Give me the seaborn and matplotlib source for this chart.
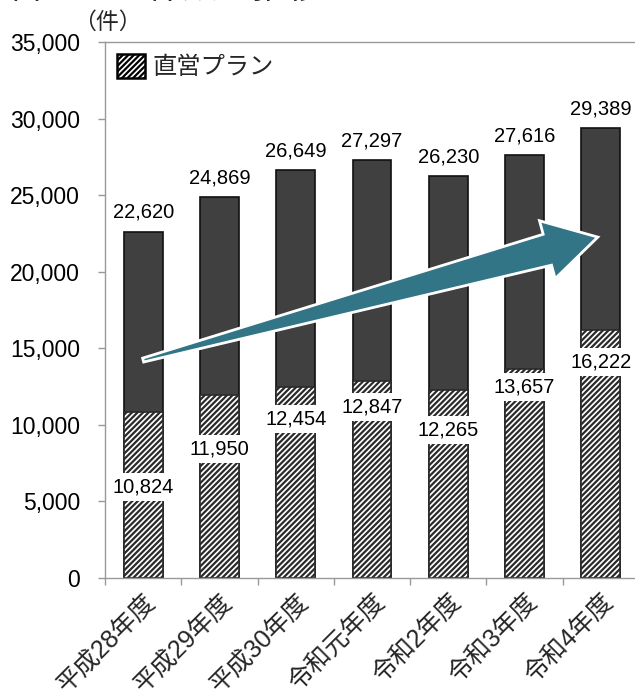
import numpy as np
import pandas as pd
import matplotlib
matplotlib.use("Agg")
import matplotlib.pyplot as plt
import seaborn as sns
from matplotlib.patches import Polygon, Patch
from matplotlib.ticker import FuncFormatter, FixedLocator

# Fiscal years and plan counts
years = ["平成28年度", "平成29年度", "平成30年度", "令和元年度", "令和2年度", "令和3年度", "令和4年度"]
total_plans = [22620, 24869, 26649, 27297, 26230, 27616, 29389]
direct_plans = [10824, 11950, 12454, 12847, 12265, 13657, 16222]

# Vertical placement of the direct-plan labels inside the bars
direct_label_y = [5940, 8420, 10380, 11160, 9660, 12470, 14100]

sns.set_theme(style="white")
plt.rcParams["font.family"] = ["Liberation Sans", "Noto Sans CJK JP"]
plt.rcParams["hatch.linewidth"] = 1.6

df = pd.DataFrame({"year": years, "total": total_plans, "direct": direct_plans})

fig = plt.figure(figsize=(6.35, 6.96), dpi=100)
ax = fig.add_axes([105 / 635, 1 - 578 / 696, 534 / 635, 536 / 696])

bar_w = 0.51
sns.barplot(data=df, x="year", y="total", color="#404040", saturation=1,
            width=bar_w, edgecolor="#111111", linewidth=1.2, ax=ax)
sns.barplot(data=df, x="year", y="direct", color="white", saturation=1,
            width=bar_w, edgecolor="#2a2a2a", linewidth=1.2, hatch="//////", ax=ax)

ax.set_xlim(-0.5, len(years) - 0.5)
ax.set_ylim(0, 35000)
ax.set_yticks(np.arange(0, 35001, 5000))
ax.yaxis.set_major_formatter(FuncFormatter(lambda v, _: f"{int(v):,}"))
ax.set_xlabel("")
ax.set_ylabel("")

for s in ax.spines.values():
    s.set_color("#999999")
    s.set_linewidth(1.0)

ax.tick_params(axis="y", length=5, width=1, color="#999999", pad=13,
               labelsize=16.5, left=True, labelcolor="black")
ax.tick_params(axis="x", which="major", length=0, pad=8)
ax.xaxis.set_minor_locator(FixedLocator(np.arange(-0.5, len(years), 1.0)))
ax.tick_params(axis="x", which="minor", length=5, width=1, color="#999999", bottom=True)
ax.set_xticks(range(len(years)))
ax.set_xticklabels(years, rotation=45, ha="right", va="top",
                   rotation_mode="anchor", fontsize=18)

# Totals above each bar
for i, v in enumerate(total_plans):
    ax.annotate(f"{v:,}", (i, v), xytext=(0, 7), textcoords="offset points",
                ha="center", va="bottom", fontsize=14.5, color="black")

# Direct-plan counts on white boxes
for i, (v, y) in enumerate(zip(direct_plans, direct_label_y)):
    ax.text(i, y, f"{v:,}", ha="center", va="center", fontsize=14.5, color="black",
            bbox=dict(facecolor="white", edgecolor="none", pad=3.5), zorder=5)

# Legend
handle = Patch(facecolor="white", edgecolor="black", hatch="//////", linewidth=1.8, label="直営プラン")
ax.legend(handles=[handle], loc="upper left", frameon=False, fontsize=17.5,
          handlelength=1.15, handleheight=1.15, handletextpad=0.3,
          borderaxespad=0.3, borderpad=0.2)

# Trend arrow: tapered shaft widening toward the head
tail = ax.transData.transform((0.0, 14230))
tip = ax.transData.transform((5.96, 22260))
d = tip - tail
u = d / np.hypot(*d)
n = np.array([-u[1], u[0]])
base = tip - u * 52
pts = np.array([
    tail + n * 2,
    base + n * 17,
    base + n * 31,
    tip,
    base - n * 29,
    base - n * 15,
    tail - n * 2,
])
pts_data = ax.transData.inverted().transform(pts)
ax.add_patch(Polygon(pts_data, closed=True, facecolor="#317586",
                     edgecolor="white", linewidth=2, zorder=6))

# Unit label and heading
fig.text(107 / 635, 1 - 22 / 696, "（件）", ha="center", va="center", fontsize=16.5)
fig.text(-25 / 635, 1 - 5 / 696, "直営プラン件数の推移", ha="left", va="bottom", fontsize=25)

fig.savefig("out.png", dpi=100)
